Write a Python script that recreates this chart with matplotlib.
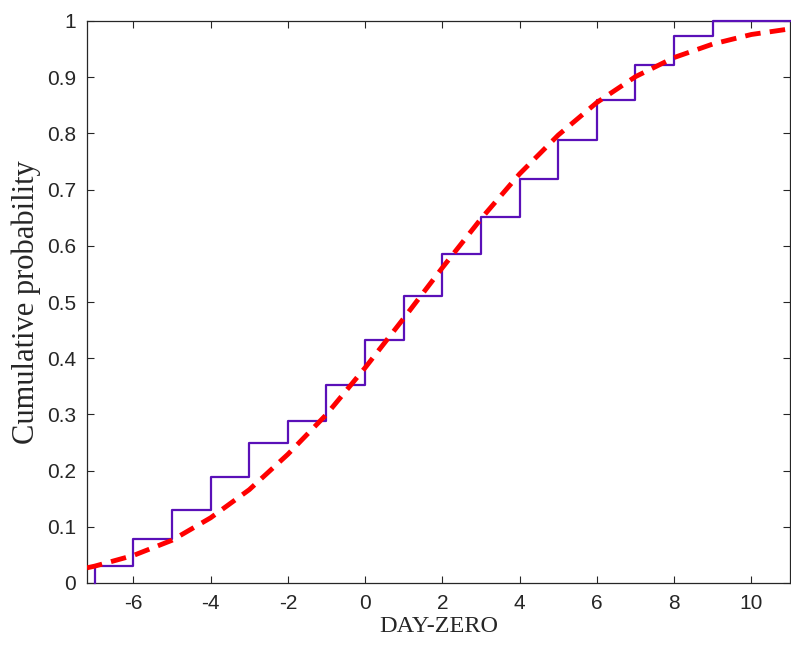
import numpy as np
import matplotlib
matplotlib.use("Agg")
import matplotlib.pyplot as plt

plt.rcParams['axes.unicode_minus'] = False

step_x = [-7, -6, -5, -4, -3, -2, -1, 0, 1, 2, 3, 4, 5, 6, 7, 8, 9]
step_p = [0.03, 0.078, 0.13, 0.188, 0.25, 0.289, 0.353, 0.432, 0.51,
          0.585, 0.652, 0.718, 0.788, 0.86, 0.922, 0.973, 1.0]

# fitted normal cdf, read at integer days
fit_x = [-7.2, -7, -6, -5, -4, -3, -2, -1, 0, 1, 2, 3, 4, 5, 6, 7, 8, 9, 10, 11]
fit_p = [0.027, 0.030, 0.049, 0.076, 0.116, 0.166, 0.229, 0.300, 0.383, 0.471,
         0.561, 0.648, 0.728, 0.797, 0.855, 0.901, 0.935, 0.959, 0.976, 0.986]

xticks = [-6, -4, -2, 0, 2, 4, 6, 8, 10]
yticks = [0, 0.1, 0.2, 0.3, 0.4, 0.5, 0.6, 0.7, 0.8, 0.9, 1]
ytick_labels = ['0', '0.1', '0.2', '0.3', '0.4', '0.5', '0.6', '0.7', '0.8', '0.9', '1']

fig = plt.figure(figsize=(7.91, 6.46), dpi=100)
ax = fig.add_axes([87/791, 63/646, 703/791, 562/646])

sx = [step_x[0]] + step_x + [11]
sp = [0] + step_p + [step_p[-1]]
ax.step(sx, sp, where='post', color='#5a10b8', linewidth=1.6, zorder=3, clip_on=False)
ax.plot(fit_x, fit_p, color='red', linewidth=3.5, linestyle=(0, (3.2, 1.9)), zorder=4)

ax.set_xlim(-7.2, 11)
ax.set_ylim(0, 1)
ax.set_xticks(xticks)
ax.set_yticks(yticks)
ax.set_yticklabels(ytick_labels)

axcol = '#262626'
for s in ax.spines.values():
    s.set_color(axcol)
    s.set_linewidth(0.9)
ax.tick_params(direction='in', top=True, right=True, length=5, width=0.8,
               colors=axcol, labelsize=15, pad=8)
for lab in ax.get_xticklabels() + ax.get_yticklabels():
    lab.set_family('Liberation Sans')

ax.set_xlabel('DAY-ZERO', family='Liberation Serif', fontsize=17.5, color=axcol, labelpad=2)
ax.set_ylabel('Cumulative probability', family='Liberation Serif', fontsize=22, color=axcol, labelpad=4)

fig.savefig('out.png', dpi=100)
